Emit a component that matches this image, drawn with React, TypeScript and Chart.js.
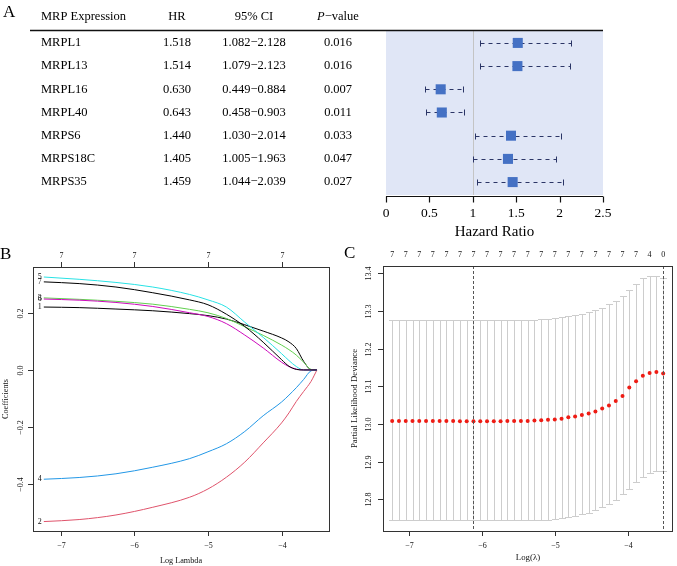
import React, { useEffect, useRef } from 'react';
import { Chart, registerables } from 'chart.js';

Chart.register(...registerables);

const SERIF = '"Liberation Serif", "Times New Roman", Times, serif';

// ---------------- Panel A: univariate Cox table + forest plot ----------------
const genes = ['MRPL1', 'MRPL13', 'MRPL16', 'MRPL40', 'MRPS6', 'MRPS18C', 'MRPS35'];
const hazardRatio = [1.518, 1.514, 0.63, 0.643, 1.44, 1.405, 1.459];
const ciLower = [1.082, 1.079, 0.449, 0.458, 1.03, 1.005, 1.044];
const ciUpper = [2.128, 2.123, 0.884, 0.903, 2.014, 1.963, 2.039];
const pValues = ['0.016', '0.016', '0.007', '0.011', '0.033', '0.047', '0.027'];
const tableHeaders = ['MRP Expression', 'HR', '95% CI', '−value'];
const hrTicks = [0, 0.5, 1, 1.5, 2, 2.5];
const hrTickLabels = ['0', '0.5', '1', '1.5', '2', '2.5'];
const hrAxisTitle = 'Hazard Ratio';

// ---------------- Panel B: LASSO coefficient paths ----------------
const lassoLogLambda = [-7.23, -6.75, -6.25, -5.75, -5.25, -5.0, -4.75, -4.5, -4.25, -4.0, -3.9, -3.8, -3.7, -3.6, -3.52];
const coef1 = [0.22, 0.218, 0.213, 0.207, 0.197, 0.19, 0.178, 0.158, 0.136, 0.112, 0.098, 0.075, 0.03, 0.001, 0];
const coef2 = [-0.53, -0.523, -0.507, -0.48, -0.445, -0.416, -0.375, -0.322, -0.255, -0.185, -0.15, -0.11, -0.075, -0.04, 0];
const coef3 = [0.252, 0.247, 0.24, 0.23, 0.212, 0.2, 0.18, 0.151, 0.121, 0.087, 0.071, 0.052, 0.027, 0.002, 0];
const coef4 = [-0.382, -0.376, -0.363, -0.34, -0.31, -0.286, -0.258, -0.215, -0.16, -0.112, -0.088, -0.062, -0.033, -0.003, 0];
const coef5 = [0.325, 0.317, 0.306, 0.29, 0.264, 0.245, 0.22, 0.167, 0.114, 0.057, 0.033, 0.012, 0, 0, 0];
const coef6 = [0.248, 0.244, 0.236, 0.222, 0.2, 0.187, 0.162, 0.122, 0.077, 0.027, 0.012, 0.003, 0, 0, 0];
const coef7 = [0.308, 0.302, 0.29, 0.27, 0.245, 0.228, 0.195, 0.152, 0.097, 0.036, 0.013, 0.002, 0, 0, 0];
const coefSeries = [coef1, coef2, coef3, coef4, coef5, coef6, coef7];
const coefLabels = ['1', '2', '3', '4', '5', '6', '7'];
const coefColors = ['#000000', '#DF536B', '#61D04F', '#2297E6', '#28E2E5', '#CD0BBC', '#000000'];
const lassoXTicks = [-7, -6, -5, -4];
const lassoXTickLabels = ['−7', '−6', '−5', '−4'];
const lassoTopLabels = ['7', '7', '7', '7'];
const lassoYTicks = [-0.4, -0.2, 0, 0.2];
const lassoYTickLabels = ['−0.4', '−0.2', '0.0', '0.2'];

// ---------------- Panel C: cross-validation curve ----------------
const cvLogLambda = [
  -7.231, -7.138, -7.045, -6.952, -6.859, -6.766, -6.673, -6.58, -6.487, -6.394,
  -6.301, -6.208, -6.115, -6.022, -5.929, -5.836, -5.743, -5.65, -5.557, -5.464,
  -5.371, -5.278, -5.185, -5.092, -4.999, -4.906, -4.813, -4.72, -4.627, -4.534,
  -4.441, -4.348, -4.255, -4.162, -4.069, -3.976, -3.883, -3.79, -3.697, -3.604, -3.511,
];
const cvMean = [
  13.008, 13.008, 13.008, 13.008, 13.008, 13.008, 13.008, 13.008, 13.008, 13.008,
  13.007, 13.007, 13.007, 13.007, 13.007, 13.007, 13.007, 13.008, 13.008, 13.008,
  13.008, 13.009, 13.01, 13.011, 13.012, 13.014, 13.018, 13.02, 13.024, 13.028,
  13.033, 13.041, 13.049, 13.061, 13.074, 13.097, 13.113, 13.128, 13.135, 13.138, 13.134,
];
const cvUpper = [
  13.276, 13.276, 13.276, 13.276, 13.276, 13.276, 13.276, 13.276, 13.276, 13.276,
  13.276, 13.276, 13.276, 13.276, 13.276, 13.276, 13.276, 13.276, 13.276, 13.276,
  13.276, 13.277, 13.278, 13.279, 13.28, 13.283, 13.286, 13.289, 13.292, 13.296,
  13.302, 13.308, 13.317, 13.327, 13.34, 13.355, 13.372, 13.387, 13.393, 13.393, 13.386,
];
const cvLower = [
  12.745, 12.745, 12.745, 12.745, 12.745, 12.745, 12.745, 12.745, 12.745, 12.745,
  12.745, 12.745, 12.745, 12.745, 12.745, 12.745, 12.745, 12.745, 12.745, 12.745,
  12.745, 12.745, 12.745, 12.746, 12.748, 12.75, 12.754, 12.756, 12.76, 12.765,
  12.772, 12.779, 12.788, 12.798, 12.814, 12.827, 12.845, 12.858, 12.869, 12.875, 12.875,
];
const cvTopLabels = ['7', '7', '7', '7', '7', '7', '7', '7', '7', '7', '7', '7', '7', '7', '7', '7', '7', '7', '7', '4', '0'];
const cvSelected = [-6.115, -3.511];
const cvXTicks = [-7, -6, -5, -4];
const cvXTickLabels = ['−7', '−6', '−5', '−4'];
const cvYTicks = [12.8, 12.9, 13.0, 13.1, 13.2, 13.3, 13.4];
const cvYTickLabels = ['12.8', '12.9', '13.0', '13.1', '13.2', '13.3', '13.4'];

// ---------------- helpers ----------------
function vText(ctx: CanvasRenderingContext2D, text: string, x: number, y: number) {
  ctx.save();
  ctx.translate(x, y);
  ctx.rotate(-Math.PI / 2);
  ctx.textAlign = 'center';
  ctx.textBaseline = 'middle';
  ctx.fillText(text, 0, 0);
  ctx.restore();
}

const snap = (v: number) => Math.round(v) + 0.5;

const forestPlugin = {
  id: 'forestPlugin',
  beforeDatasetsDraw(chart: any) {
    const { ctx, chartArea: a, scales } = chart;
    const x = scales.x;
    const y = scales.y;
    ctx.save();
    ctx.fillStyle = '#E0E6F6';
    ctx.fillRect(a.left, a.top, a.right - a.left, a.bottom - a.top);
    const x1 = snap(x.getPixelForValue(1));
    ctx.strokeStyle = '#C4C4C4';
    ctx.lineWidth = 1;
    ctx.beginPath();
    ctx.moveTo(x1, a.top);
    ctx.lineTo(x1, a.bottom);
    ctx.stroke();
    ctx.strokeStyle = '#2B3566';
    genes.forEach((_g, i) => {
      const yy = snap(y.getPixelForValue(i + 1));
      const xl = snap(x.getPixelForValue(ciLower[i]));
      const xh = snap(x.getPixelForValue(ciUpper[i]));
      ctx.setLineDash([4, 4]);
      ctx.beginPath();
      ctx.moveTo(xl, yy);
      ctx.lineTo(xh, yy);
      ctx.stroke();
      ctx.setLineDash([]);
      ctx.beginPath();
      ctx.moveTo(xl, yy - 3);
      ctx.lineTo(xl, yy + 3);
      ctx.moveTo(xh, yy - 3);
      ctx.lineTo(xh, yy + 3);
      ctx.stroke();
    });
    ctx.restore();
  },
  afterDraw(chart: any) {
    const { ctx, chartArea: a, scales } = chart;
    const x = scales.x;
    const y = scales.y;
    ctx.save();
    ctx.fillStyle = '#000';
    // panel letter
    ctx.font = `17px ${SERIF}`;
    ctx.textAlign = 'left';
    ctx.textBaseline = 'middle';
    ctx.fillText('A', 3, 13);
    // table header
    const colHR = 177;
    const colCI = 254;
    const colP = 338;
    ctx.font = `12.5px ${SERIF}`;
    ctx.textBaseline = 'middle';
    ctx.textAlign = 'left';
    ctx.fillText(tableHeaders[0], 41, 17);
    ctx.textAlign = 'center';
    ctx.fillText(tableHeaders[1], colHR, 17);
    ctx.fillText(tableHeaders[2], colCI, 17);
    ctx.font = `italic 12.5px ${SERIF}`;
    const wP = ctx.measureText('P').width;
    ctx.font = `12.5px ${SERIF}`;
    const wRest = ctx.measureText(tableHeaders[3]).width;
    const startP = colP - (wP + wRest) / 2;
    ctx.textAlign = 'left';
    ctx.font = `italic 12.5px ${SERIF}`;
    ctx.fillText('P', startP, 17);
    ctx.font = `12.5px ${SERIF}`;
    ctx.fillText(tableHeaders[3], startP + wP, 17);
    // underline
    ctx.strokeStyle = '#111';
    ctx.lineWidth = 1.3;
    ctx.beginPath();
    ctx.moveTo(30, 30.5);
    ctx.lineTo(a.right, 30.5);
    ctx.stroke();
    // rows
    genes.forEach((g, i) => {
      const yy = y.getPixelForValue(i + 1);
      ctx.textAlign = 'left';
      ctx.fillText(g, 41, yy);
      ctx.textAlign = 'center';
      ctx.fillText(hazardRatio[i].toFixed(3), colHR, yy);
      ctx.fillText(`${ciLower[i].toFixed(3)}−${ciUpper[i].toFixed(3)}`, colCI, yy);
      ctx.fillText(pValues[i], colP, yy);
    });
    // x axis
    const ay = a.bottom + 1.5;
    ctx.lineWidth = 1.2;
    ctx.strokeStyle = '#111';
    ctx.beginPath();
    ctx.moveTo(x.getPixelForValue(hrTicks[0]), ay);
    ctx.lineTo(x.getPixelForValue(hrTicks[hrTicks.length - 1]), ay);
    hrTicks.forEach((t) => {
      const px = snap(x.getPixelForValue(t));
      ctx.moveTo(px, ay);
      ctx.lineTo(px, ay + 6);
    });
    ctx.stroke();
    ctx.font = `13.5px ${SERIF}`;
    ctx.textAlign = 'center';
    hrTicks.forEach((t, i) => {
      ctx.fillText(hrTickLabels[i], x.getPixelForValue(t), a.bottom + 18);
    });
    ctx.font = `15px ${SERIF}`;
    ctx.fillText(hrAxisTitle, (a.left + a.right) / 2, a.bottom + 37);
    ctx.restore();
  },
};

const lassoPlugin = {
  id: 'lassoPlugin',
  afterDraw(chart: any) {
    const { ctx, chartArea: a, scales } = chart;
    const x = scales.x;
    const y = scales.y;
    ctx.save();
    ctx.strokeStyle = '#333';
    ctx.lineWidth = 1;
    ctx.strokeRect(a.left + 0.5, a.top + 0.5, a.right - a.left, a.bottom - a.top);
    ctx.fillStyle = '#111';
    ctx.font = `8px ${SERIF}`;
    ctx.textAlign = 'center';
    ctx.textBaseline = 'middle';
    ctx.beginPath();
    lassoXTicks.forEach((v, i) => {
      const px = snap(x.getPixelForValue(v));
      ctx.moveTo(px, a.bottom);
      ctx.lineTo(px, a.bottom + 5);
      ctx.moveTo(px, a.top);
      ctx.lineTo(px, a.top - 5);
      ctx.fillText(lassoXTickLabels[i], px, a.bottom + 15);
      ctx.fillText(lassoTopLabels[i], px, a.top - 11);
    });
    lassoYTicks.forEach((v, i) => {
      const py = snap(y.getPixelForValue(v));
      ctx.moveTo(a.left - 5, py);
      ctx.lineTo(a.left, py);
      vText(ctx, lassoYTickLabels[i], a.left - 12.5, py);
    });
    ctx.stroke();
    ctx.font = `8.2px ${SERIF}`;
    ctx.fillText('Log Lambda', (a.left + a.right) / 2, a.bottom + 30);
    vText(ctx, 'Coefficients', 6, (a.top + a.bottom) / 2);
    // curve labels
    ctx.font = `8px ${SERIF}`;
    ctx.textAlign = 'right';
    coefSeries.forEach((s, i) => {
      ctx.fillText(coefLabels[i], x.getPixelForValue(lassoLogLambda[0]) - 2, y.getPixelForValue(s[0]));
    });
    ctx.fillStyle = '#000';
    ctx.font = `17px ${SERIF}`;
    ctx.textAlign = 'left';
    ctx.fillText('B', 0, 10);
    ctx.restore();
  },
};

const cvPlugin = {
  id: 'cvPlugin',
  beforeDatasetsDraw(chart: any) {
    const { ctx, scales } = chart;
    const x = scales.x;
    const y = scales.y;
    ctx.save();
    ctx.strokeStyle = '#CDCDCD';
    ctx.lineWidth = 1;
    ctx.beginPath();
    cvLogLambda.forEach((lx, i) => {
      const px = snap(x.getPixelForValue(lx));
      const pu = snap(y.getPixelForValue(cvUpper[i]));
      const pl = snap(y.getPixelForValue(cvLower[i]));
      ctx.moveTo(px, pu);
      ctx.lineTo(px, pl);
      ctx.moveTo(px - 3.5, pu);
      ctx.lineTo(px + 3.5, pu);
      ctx.moveTo(px - 3.5, pl);
      ctx.lineTo(px + 3.5, pl);
    });
    ctx.stroke();
    ctx.restore();
  },
  afterDatasetsDraw(chart: any) {
    const { ctx, chartArea: a, scales } = chart;
    const x = scales.x;
    ctx.save();
    ctx.strokeStyle = '#555';
    ctx.lineWidth = 1;
    ctx.setLineDash([3, 2]);
    ctx.beginPath();
    cvSelected.forEach((v) => {
      const px = snap(x.getPixelForValue(v));
      ctx.moveTo(px, a.top);
      ctx.lineTo(px, a.bottom);
    });
    ctx.stroke();
    ctx.restore();
  },
  afterDraw(chart: any) {
    const { ctx, chartArea: a, scales } = chart;
    const x = scales.x;
    const y = scales.y;
    ctx.save();
    ctx.strokeStyle = '#333';
    ctx.lineWidth = 1;
    ctx.strokeRect(a.left + 0.5, a.top + 0.5, a.right - a.left - 1, a.bottom - a.top);
    ctx.fillStyle = '#111';
    ctx.font = `8px ${SERIF}`;
    ctx.textAlign = 'center';
    ctx.textBaseline = 'middle';
    ctx.beginPath();
    cvXTicks.forEach((v, i) => {
      const px = snap(x.getPixelForValue(v));
      ctx.moveTo(px, a.bottom);
      ctx.lineTo(px, a.bottom + 5);
      ctx.fillText(cvXTickLabels[i], px, a.bottom + 15);
    });
    cvYTicks.forEach((v, i) => {
      const py = snap(y.getPixelForValue(v));
      ctx.moveTo(a.left - 5, py);
      ctx.lineTo(a.left, py);
      vText(ctx, cvYTickLabels[i], a.left - 14, py);
    });
    ctx.stroke();
    cvTopLabels.forEach((lab, k) => {
      ctx.fillText(lab, x.getPixelForValue(cvLogLambda[k * 2]), a.top - 11);
    });
    ctx.font = `8.8px ${SERIF}`;
    ctx.fillText('Log(λ)', (a.left + a.right) / 2, a.bottom + 27);
    vText(ctx, 'Partial Likelihood Deviance', 17, (a.top + a.bottom) / 2);
    ctx.fillStyle = '#000';
    ctx.font = `17px ${SERIF}`;
    ctx.textAlign = 'left';
    ctx.fillText('C', 6, 9);
    ctx.restore();
  },
};

const baseOptions = {
  responsive: false,
  animation: false as const,
  events: [] as any[],
  plugins: { legend: { display: false }, tooltip: { enabled: false } },
};

export default function App() {
  const aRef = useRef<HTMLCanvasElement>(null);
  const bRef = useRef<HTMLCanvasElement>(null);
  const cRef = useRef<HTMLCanvasElement>(null);

  useEffect(() => {
    const forest = new Chart(aRef.current as HTMLCanvasElement, {
      type: 'scatter',
      data: {
        datasets: [
          {
            data: genes.map((_g, i) => ({ x: hazardRatio[i], y: i + 1 })),
            pointStyle: 'rect',
            pointRadius: 7.1,
            backgroundColor: '#4571C4',
            borderColor: '#4571C4',
            borderWidth: 0,
          },
        ],
      },
      options: {
        ...baseOptions,
        layout: { padding: { left: 386, right: 74, top: 30, bottom: 50 } },
        scales: {
          x: { type: 'linear', min: 0, max: 2.5, display: false },
          y: { type: 'linear', min: 0.443, max: 7.557, reverse: true, display: false },
        },
      } as any,
      plugins: [forestPlugin],
    });

    const lasso = new Chart(bRef.current as HTMLCanvasElement, {
      type: 'line',
      data: {
        datasets: coefSeries.map((s, i) => ({
          data: lassoLogLambda.map((lx, j) => ({ x: lx, y: s[j] })),
          borderColor: coefColors[i],
          borderWidth: 1,
          pointRadius: 0,
          fill: false,
          cubicInterpolationMode: 'monotone' as const,
          order: coefSeries.length - i,
        })),
      },
      options: {
        ...baseOptions,
        layout: { padding: { left: 33, right: 9, top: 22, bottom: 35 } },
        scales: {
          x: { type: 'linear', min: -7.377, max: -3.356, display: false },
          y: { type: 'linear', min: -0.563, max: 0.36, display: false },
        },
      } as any,
      plugins: [lassoPlugin],
    });

    const cv = new Chart(cRef.current as HTMLCanvasElement, {
      type: 'scatter',
      data: {
        datasets: [
          {
            data: cvLogLambda.map((lx, i) => ({ x: lx, y: cvMean[i] })),
            pointStyle: 'circle',
            pointRadius: 2,
            backgroundColor: '#EE1C14',
            borderWidth: 0,
          },
        ],
      },
      options: {
        ...baseOptions,
        layout: { padding: { left: 45, right: 1, top: 21, bottom: 35 } },
        scales: {
          x: { type: 'linear', min: -7.357, max: -3.376, display: false },
          y: { type: 'linear', min: 12.716, max: 13.419, display: false },
        },
      } as any,
      plugins: [cvPlugin],
    });

    return () => {
      forest.destroy();
      lasso.destroy();
      cv.destroy();
    };
  }, []);

  return (
    <div style={{ position: 'absolute', left: 0, top: 0, width: 677, height: 566, background: '#fff', overflow: 'hidden' }}>
      <canvas ref={aRef} width={677} height={245} style={{ position: 'absolute', left: 0, top: 0 }} />
      <canvas ref={bRef} width={338} height={321} style={{ position: 'absolute', left: 0, top: 245 }} />
      <canvas ref={cRef} width={339} height={321} style={{ position: 'absolute', left: 338, top: 245 }} />
    </div>
  );
}
